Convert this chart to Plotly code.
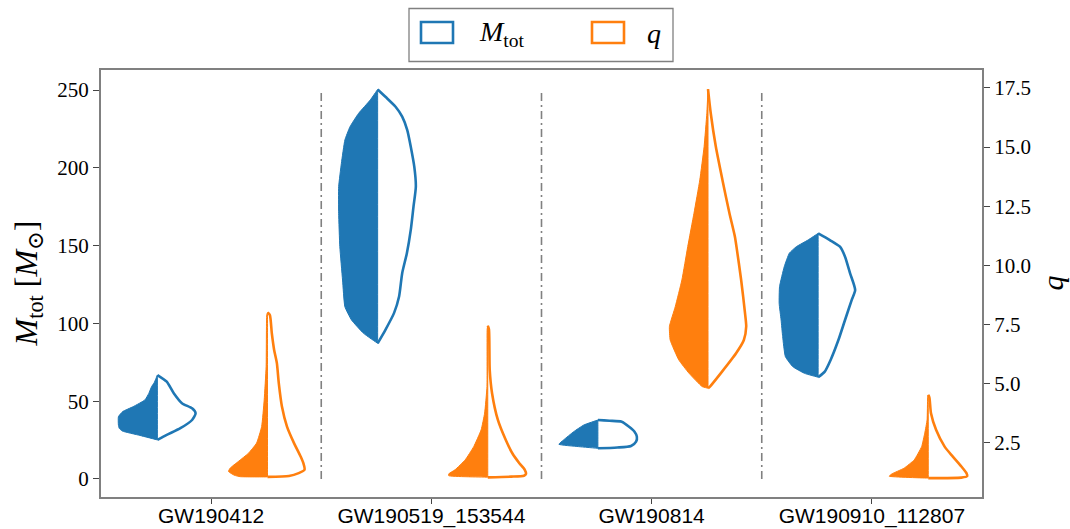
import plotly.graph_objects as go

# ---------------- data ----------------
EVENTS = ["GW190412", "GW190519_153544", "GW190814", "GW190910_112807"]

# M_tot, filled (left) half: values [Msun] top->bottom and relative density
MTOT_A_VAL = [
    [66.8, 62.0, 59.3, 55.0, 50.8, 46.5, 43.3, 40.0, 34.7, 32.6, 30.8, 28.0, 25.1],
    [250.4, 243.6, 235.0, 226.4, 217.9, 202.9, 187.9, 170.8, 149.3, 127.9, 110.7, 102.2, 93.6, 87.2],
    [37.9, 34.7, 30.4, 25.1, 22.3, 20.8, 19.7],
    [157.9, 153.6, 149.3, 145.1, 136.4, 123.6, 112.9, 102.2, 91.5, 78.6, 72.2, 67.9, 65.4],
]
MTOT_A_DEN = [
    [0.0, 0.08, 0.15, 0.22, 0.32, 0.62, 0.89, 1.0, 1.0, 0.98, 0.90, 0.45, 0.0],
    [0.0, 0.19, 0.49, 0.71, 0.84, 0.93, 1.0, 1.0, 0.97, 0.90, 0.84, 0.67, 0.36, 0.0],
    [0.0, 0.36, 0.62, 0.88, 1.0, 0.5, 0.0],
    [0.0, 0.26, 0.56, 0.74, 0.87, 0.99, 1.0, 0.95, 0.91, 0.84, 0.65, 0.35, 0.0],
]
# M_tot, outlined (right) half
MTOT_B_VAL = [
    [66.8, 62.5, 55.1, 48.7, 45.4, 42.2, 37.9, 32.6, 28.3, 25.1],
    [250.4, 245.7, 239.3, 232.9, 224.3, 213.6, 200.8, 187.9, 175.1, 160.1, 145.1, 132.3, 117.3, 106.6, 95.9, 87.2],
    [37.9, 37.4, 36.8, 33.6, 30.4, 27.2, 24.0, 21.2, 20.2, 19.7],
    [157.9, 153.6, 149.3, 142.9, 132.2, 121.5, 115.0, 102.2, 89.3, 76.5, 69.0, 65.4],
]
MTOT_B_DEN = [
    [0.0, 0.24, 0.42, 0.63, 0.89, 0.98, 0.89, 0.59, 0.24, 0.0],
    [0.0, 0.20, 0.46, 0.63, 0.76, 0.85, 0.94, 0.98, 0.92, 0.85, 0.75, 0.63, 0.55, 0.42, 0.20, 0.0],
    [0.0, 0.30, 0.61, 0.80, 0.94, 1.0, 0.98, 0.85, 0.5, 0.0],
    [0.0, 0.30, 0.56, 0.69, 0.82, 0.95, 0.86, 0.69, 0.52, 0.32, 0.17, 0.0],
]

# q, filled (left) half
Q_A_VAL = [
    [8.0, 7.9, 5.72, 4.31, 3.18, 2.48, 2.05, 1.70, 1.42, 1.28, 1.12, 1.06, 1.05],
    [7.44, 7.3, 4.87, 3.75, 3.04, 2.33, 1.77, 1.35, 1.18, 1.10, 1.04],
    [17.45, 16.43, 15.02, 13.61, 12.20, 10.79, 9.38, 8.25, 7.41, 6.84, 6.0, 5.44, 4.87, 4.80],
    [4.52, 4.4, 3.46, 2.90, 2.33, 1.77, 1.42, 1.18, 1.08, 1.0],
]
Q_A_DEN = [
    [0.0, 0.02, 0.035, 0.085, 0.15, 0.28, 0.49, 0.75, 0.96, 1.0, 0.85, 0.7, 0.0],
    [0.0, 0.015, 0.02, 0.08, 0.17, 0.36, 0.58, 0.84, 1.0, 1.0, 0.0],
    [0.0, 0.03, 0.10, 0.21, 0.36, 0.52, 0.67, 0.84, 0.99, 0.97, 0.75, 0.49, 0.15, 0.0],
    [0.0, 0.015, 0.03, 0.09, 0.17, 0.36, 0.62, 0.93, 1.0, 0.0],
]
# q, outlined (right) half
Q_B_VAL = [
    [8.0, 7.9, 7.13, 6.42, 5.86, 5.01, 4.03, 3.18, 2.48, 1.91, 1.63, 1.35, 1.21, 1.09, 1.05],
    [7.44, 7.3, 5.58, 4.59, 3.46, 2.62, 2.05, 1.63, 1.35, 1.18, 1.10, 1.06, 1.03],
    [17.45, 16.43, 15.02, 13.61, 12.20, 11.21, 10.79, 9.38, 7.97, 7.41, 6.84, 6.28, 5.44, 4.87, 4.80],
    [4.52, 4.4, 3.74, 3.04, 2.33, 1.91, 1.49, 1.21, 1.08, 1.02, 1.0],
]
Q_B_DEN = [
    [0.0, 0.06, 0.11, 0.17, 0.24, 0.29, 0.37, 0.50, 0.68, 0.85, 0.92, 0.95, 0.80, 0.55, 0.0],
    [0.0, 0.03, 0.05, 0.11, 0.26, 0.46, 0.63, 0.81, 0.95, 0.98, 0.93, 0.6, 0.0],
    [0.0, 0.07, 0.20, 0.37, 0.55, 0.69, 0.73, 0.85, 0.95, 0.98, 0.92, 0.72, 0.33, 0.05, 0.0],
    [0.0, 0.03, 0.07, 0.20, 0.42, 0.63, 0.85, 0.98, 1.0, 0.85, 0.0],
]

MTOT_TICKS = [0, 50, 100, 150, 200, 250]
Q_TICKS = [2.5, 5.0, 7.5, 10.0, 12.5, 15.0, 17.5]
DIVIDERS = [0.5, 1.5, 2.5]

# ---------------- style ----------------
BLUE = "#1f77b4"
ORANGE = "#ff7f0e"
FRAME = "#808080"
HALF_W = 0.177
OFF_M = -0.244
OFF_Q = 0.256
SERIF = "Liberation Serif, DejaVu Serif, serif"
SANS = "Liberation Sans, Arial, sans-serif"

W, H = 1070, 529
L, R, T, B = 101, 982, 70, 497

fig = go.Figure()


def add_violin(center, aval, aden, bval, bden, color, yaxis):
    xs = [center] + [center - d * HALF_W for d in aden] + [center, center]
    ys = [aval[0]] + list(aval) + [aval[-1], aval[0]]
    fig.add_trace(go.Scatter(x=xs, y=ys, mode="lines", fill="toself",
                             fillcolor=color,
                             line=dict(color=color, width=1, shape="spline", smoothing=0.4),
                             yaxis=yaxis, showlegend=False, hoverinfo="skip"))
    xs = [center] + [center + d * HALF_W for d in bden] + [center]
    ys = [bval[0]] + list(bval) + [bval[-1]]
    fig.add_trace(go.Scatter(x=xs, y=ys, mode="lines",
                             line=dict(color=color, width=2.6, shape="spline", smoothing=0.6),
                             yaxis=yaxis, showlegend=False, hoverinfo="skip"))


for i, ev in enumerate(EVENTS):
    add_violin(i + OFF_M, MTOT_A_VAL[i], MTOT_A_DEN[i], MTOT_B_VAL[i], MTOT_B_DEN[i], BLUE, "y")
    add_violin(i + OFF_Q, Q_A_VAL[i], Q_A_DEN[i], Q_B_VAL[i], Q_B_DEN[i], ORANGE, "y2")

shapes = []
for xd in DIVIDERS:
    shapes.append(dict(type="line", xref="x", yref="y", x0=xd, x1=xd,
                       y0=MTOT_TICKS[0], y1=MTOT_TICKS[-1],
                       line=dict(color=FRAME, width=1.6, dash="8px,4px,2px,4px")))


def px(xp):
    return (xp - L) / (R - L)


def py(yp):
    return (B - yp) / (B - T)


# manual legend
shapes.append(dict(type="rect", xref="paper", yref="paper",
                   x0=px(409), x1=px(673), y0=py(61.5), y1=py(8.5),
                   line=dict(color=FRAME, width=1.3), fillcolor="white"))
for x0, x1, col in [(421, 453, BLUE), (592, 624, ORANGE)]:
    shapes.append(dict(type="rect", xref="paper", yref="paper",
                       x0=px(x0), x1=px(x1), y0=py(43), y1=py(22),
                       line=dict(color=col, width=2.6), fillcolor="white"))

annotations = [
    dict(xref="paper", yref="paper", x=px(477), y=py(34), xanchor="left", yanchor="middle",
         text="<i>M</i><sub>tot</sub>", showarrow=False, font=dict(family=SERIF, size=28, color="black")),
    dict(xref="paper", yref="paper", x=px(645), y=py(34), xanchor="left", yanchor="middle",
         text="<i>q</i>", showarrow=False, font=dict(family=SERIF, size=28, color="black")),
    dict(xref="paper", yref="paper", x=px(28), y=0.5, xanchor="center", yanchor="middle",
         textangle=-90, text="<i>M</i><sub>tot</sub> [<i>M</i><sub>⊙</sub>]", showarrow=False,
         font=dict(family=SERIF, size=32, color="black")),
    dict(xref="paper", yref="paper", x=px(1052), y=0.5, xanchor="center", yanchor="middle",
         textangle=-90, text="<i>q</i>", showarrow=False,
         font=dict(family=SERIF, size=30, color="black")),
]

fig.update_layout(
    width=W, height=H,
    margin=dict(l=L, r=W - R, t=T, b=H - B, pad=0, autoexpand=False),
    paper_bgcolor="white", plot_bgcolor="white",
    showlegend=False,
    shapes=shapes,
    annotations=annotations,
    xaxis=dict(range=[-0.5, 3.5], tickmode="array", tickvals=list(range(len(EVENTS))),
               ticktext=EVENTS, showgrid=False, zeroline=False, automargin=False,
               showline=True, mirror=True, linecolor=FRAME, linewidth=2,
               ticks="outside", ticklen=5, tickwidth=1, tickcolor="#444",
               ticklabelstandoff=-6,
               tickfont=dict(family=SANS, size=21, color="black")),
    yaxis=dict(range=[-11.6, 262.9], tickmode="array", tickvals=MTOT_TICKS, automargin=False,
               showgrid=False, zeroline=False, showline=True, linecolor=FRAME, linewidth=2,
               ticks="outside", ticklen=6, tickwidth=1, tickcolor="#444",
               tickfont=dict(family=SERIF, size=21, color="black")),
    yaxis2=dict(range=[0.2, 18.26], overlaying="y", side="right", tickmode="array", automargin=False,
                tickvals=Q_TICKS, ticktext=[f"{v:.1f}" for v in Q_TICKS],
                showgrid=False, zeroline=False, showline=True, linecolor=FRAME, linewidth=2,
                ticks="outside", ticklen=6, tickwidth=1, tickcolor="#444",
                tickfont=dict(family=SERIF, size=21, color="black")),
)

fig.write_html("out.html")
